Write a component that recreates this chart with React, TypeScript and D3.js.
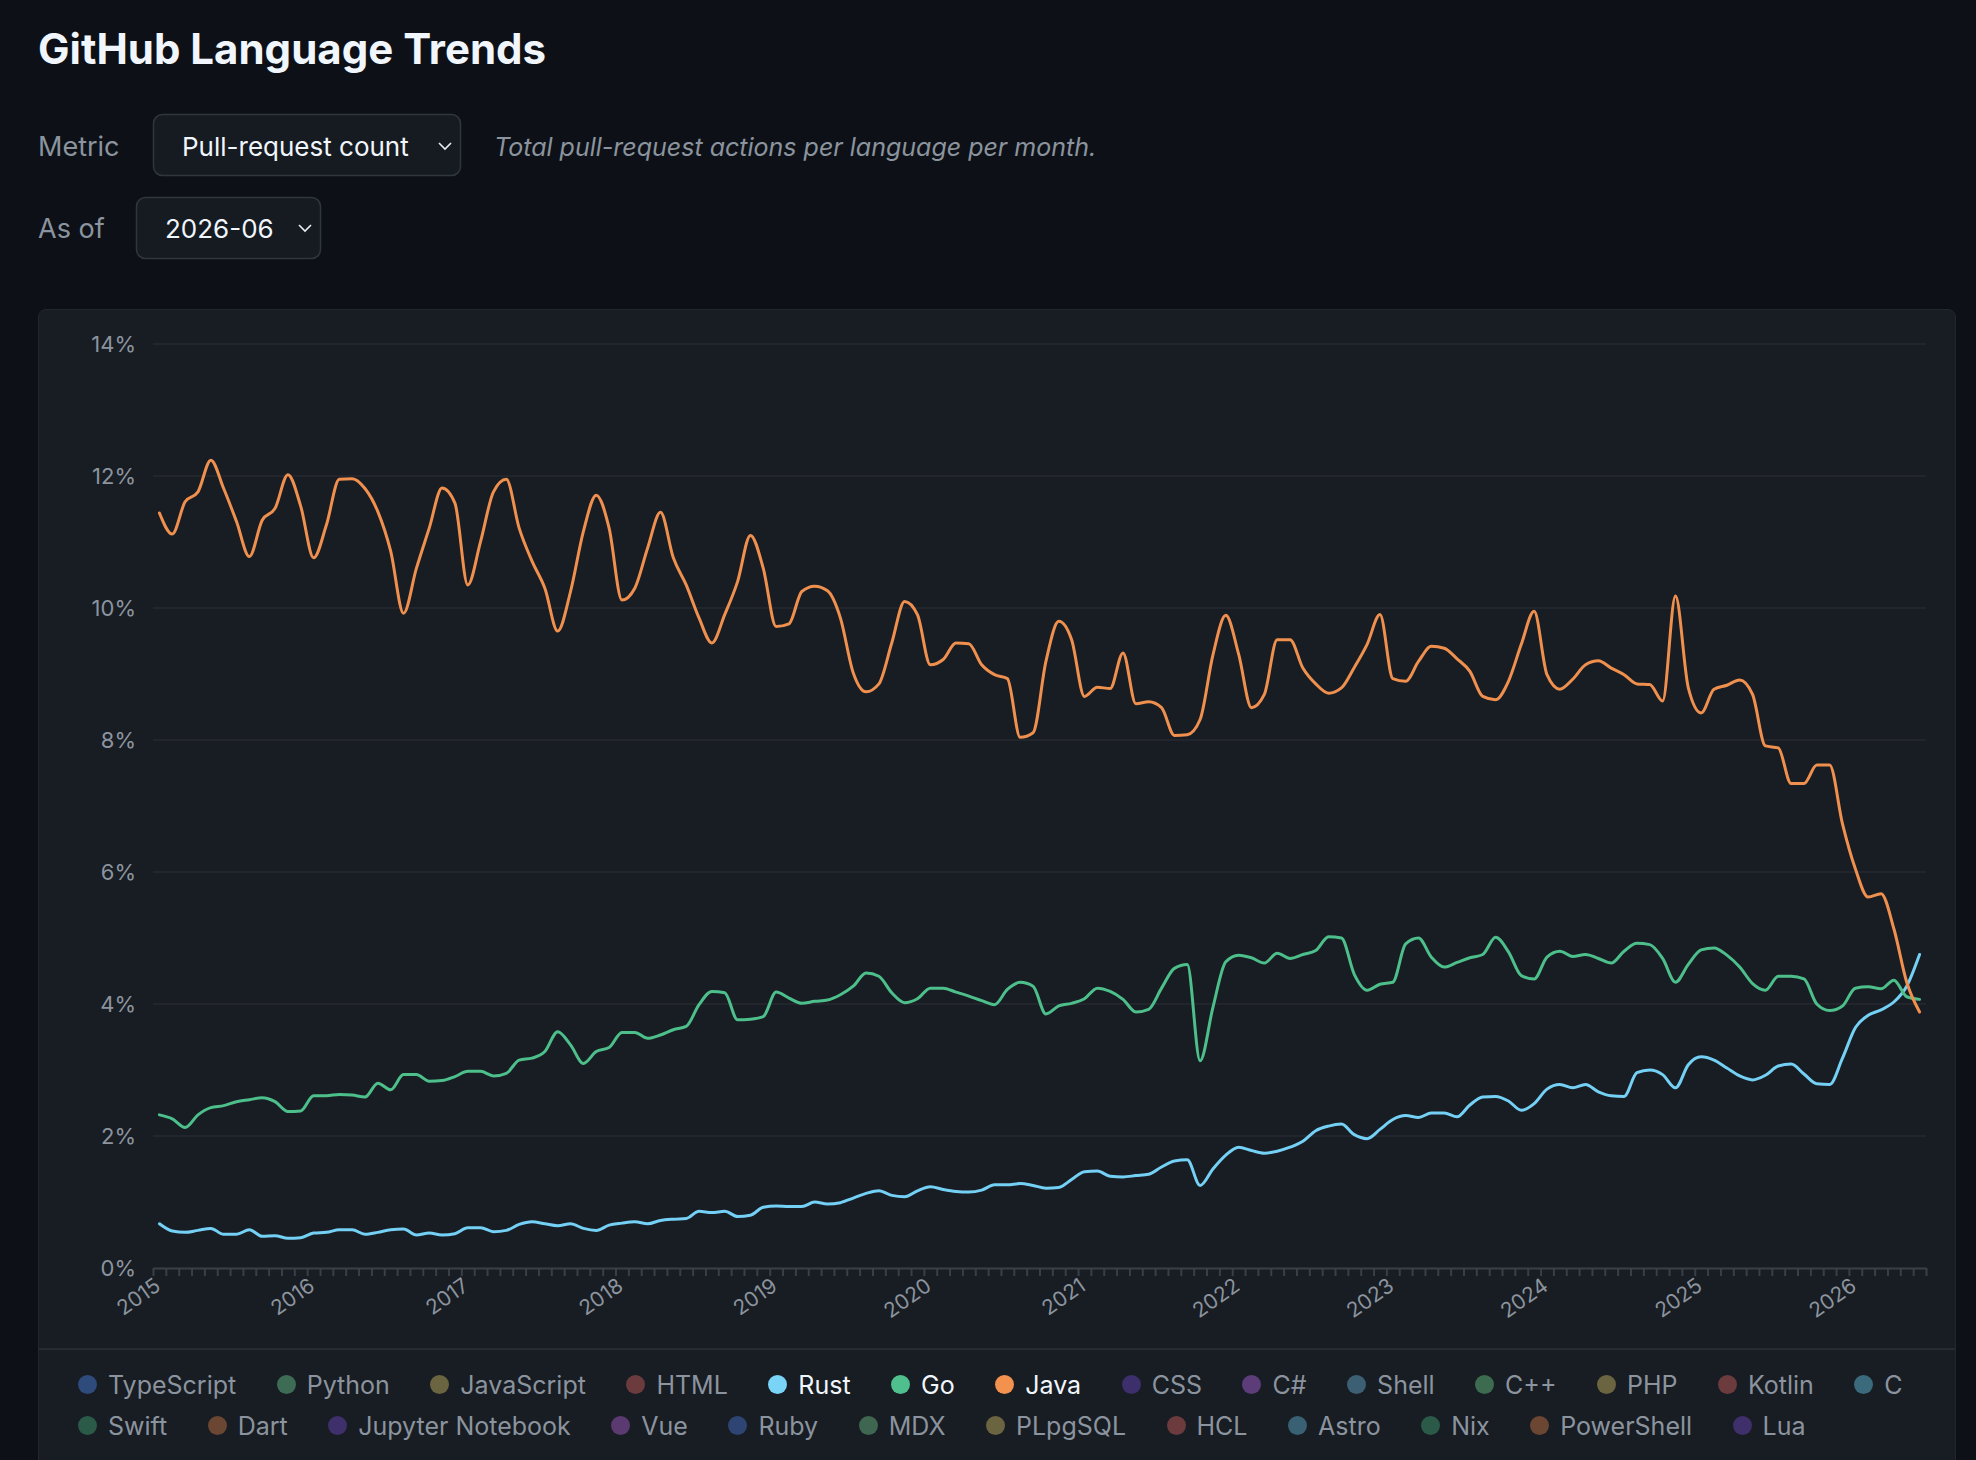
import React, { useEffect, useRef } from "react";
import * as d3 from "d3";

const FONT = "Inter, 'Noto Sans', 'DejaVu Sans', sans-serif";

// monthly share of pull-request actions, 2015-01 .. 2026-06 (percent)
const years = ["2015", "2016", "2017", "2018", "2019", "2020", "2021", "2022", "2023", "2024", "2025", "2026"];
const yTicks = [0, 2, 4, 6, 8, 10, 12, 14];

const java = [
  11.44, 11.12, 11.61, 11.76, 12.24, 11.81, 11.31, 10.78, 11.33, 11.51, 12.02, 11.54,
  10.76, 11.26, 11.95, 11.96, 11.81, 11.46, 10.86, 9.92, 10.6, 11.21, 11.82, 11.59,
  10.35, 11.01, 11.76, 11.95, 11.21, 10.71, 10.3, 9.65, 10.25, 11.16, 11.71, 11.21,
  10.12, 10.3, 10.91, 11.45, 10.76, 10.35, 9.85, 9.47, 9.9, 10.4, 11.1, 10.6,
  9.72, 9.76, 10.25, 10.33, 10.26, 9.85, 9.02, 8.73, 8.85, 9.47, 10.1, 9.9,
  9.14, 9.22, 9.47, 9.46, 9.14, 8.99, 8.93, 8.04, 8.11, 9.19, 9.8, 9.52,
  8.66, 8.8, 8.78, 9.32, 8.55, 8.58, 8.49, 8.07, 8.08, 8.31, 9.29, 9.89,
  9.3, 8.49, 8.69, 9.52, 9.52, 9.09, 8.85, 8.71, 8.79, 9.1, 9.45, 9.9,
  8.93, 8.89, 9.19, 9.42, 9.39, 9.23, 9.04, 8.66, 8.61, 8.89, 9.45, 9.95,
  8.99, 8.77, 8.92, 9.14, 9.2, 9.09, 8.99, 8.85, 8.84, 8.59, 10.18, 8.79,
  8.41, 8.77, 8.83, 8.91, 8.69, 7.91, 7.88, 7.34, 7.34, 7.62, 7.62, 6.73,
  6.05, 5.62, 5.67, 5.14, 4.33, 3.88,
];

const go = [
  2.32, 2.26, 2.13, 2.32, 2.43, 2.46, 2.52, 2.55, 2.58, 2.52, 2.37, 2.38,
  2.61, 2.61, 2.63, 2.62, 2.59, 2.8, 2.7, 2.93, 2.93, 2.83, 2.84, 2.9,
  2.98, 2.98, 2.91, 2.95, 3.15, 3.18, 3.28, 3.58, 3.38, 3.1, 3.28, 3.34,
  3.57, 3.57, 3.48, 3.53, 3.61, 3.66, 3.99, 4.19, 4.17, 3.76, 3.77, 3.81,
  4.18, 4.09, 4.01, 4.04, 4.06, 4.14, 4.27, 4.47, 4.42, 4.17, 4.02, 4.08,
  4.24, 4.24, 4.18, 4.12, 4.05, 3.99, 4.22, 4.33, 4.27, 3.85, 3.97, 4.01,
  4.08, 4.24, 4.19, 4.07, 3.88, 3.92, 4.24, 4.54, 4.6, 3.14, 3.95, 4.64,
  4.74, 4.7, 4.62, 4.77, 4.69, 4.75, 4.81, 5.02, 5.0, 4.45, 4.21, 4.3,
  4.33, 4.91, 5.0, 4.71, 4.56, 4.63, 4.7, 4.75, 5.01, 4.79, 4.43, 4.38,
  4.71, 4.8, 4.72, 4.75, 4.69, 4.62, 4.8, 4.92, 4.9, 4.69, 4.33, 4.6,
  4.82, 4.85, 4.74, 4.56, 4.31, 4.21, 4.42, 4.42, 4.38, 4.0, 3.9, 3.97,
  4.24, 4.26, 4.23, 4.36, 4.11, 4.07,
];

const rust = [
  0.67, 0.56, 0.54, 0.57, 0.6, 0.51, 0.51, 0.58, 0.48, 0.49, 0.45, 0.46,
  0.53, 0.54, 0.58, 0.58, 0.51, 0.54, 0.58, 0.59, 0.5, 0.53, 0.5, 0.52,
  0.61, 0.61, 0.55, 0.57, 0.66, 0.7, 0.67, 0.64, 0.67, 0.6, 0.57, 0.65,
  0.68, 0.7, 0.67, 0.72, 0.74, 0.75, 0.86, 0.84, 0.86, 0.78, 0.8, 0.92,
  0.94, 0.93, 0.93, 1.0, 0.97, 0.99, 1.06, 1.13, 1.17, 1.1, 1.08, 1.17,
  1.23, 1.19, 1.16, 1.15, 1.18, 1.26, 1.26, 1.28, 1.25, 1.21, 1.22, 1.34,
  1.46, 1.47, 1.39, 1.38, 1.4, 1.42, 1.53, 1.62, 1.64, 1.25, 1.5, 1.71,
  1.83, 1.78, 1.74, 1.77, 1.83, 1.92, 2.08, 2.15, 2.18, 2.02, 1.96, 2.1,
  2.25, 2.31, 2.28, 2.35, 2.35, 2.29, 2.47, 2.59, 2.6, 2.53, 2.39, 2.49,
  2.71, 2.78, 2.73, 2.78, 2.67, 2.61, 2.6, 2.96, 3.0, 2.93, 2.73, 3.08,
  3.2, 3.15, 3.03, 2.91, 2.85, 2.92, 3.06, 3.09, 2.94, 2.79, 2.78, 3.18,
  3.64, 3.83, 3.91, 4.03, 4.27, 4.75,
];

// drawn in this order, so Java sits on top
const seriesNames = ["Rust", "Go", "Java"];
const seriesValues = [rust, go, java];
const seriesColors = ["#74d0f4", "#4dbf8b", "#f0904e"];

const legendRow1 = ["TypeScript", "Python", "JavaScript", "HTML", "Rust", "Go", "Java", "CSS", "C#", "Shell", "C++", "PHP", "Kotlin", "C"];
const legendRow1Colors = ["#2e4b7c", "#3d6b54", "#6b6440", "#6b3b3e", "#79d4f7", "#4fc08d", "#f3914f", "#3c2f6c", "#5c3d7a", "#3c5f73", "#3d6b50", "#6b6440", "#6b3b3e", "#3a6a7c"];
const legendRow2 = ["Swift", "Dart", "Jupyter Notebook", "Vue", "Ruby", "MDX", "PLpgSQL", "HCL", "Astro", "Nix", "PowerShell", "Lua"];
const legendRow2Colors = ["#2b5a48", "#6b4632", "#3f2f6b", "#5a3a70", "#2e4473", "#3f6650", "#6b6440", "#6b3b3e", "#3a6073", "#2b5a48", "#6b4632", "#3f2f6b"];

const W = 1918;
const H = 1038;
const margin = { top: 34, right: 31, bottom: 80, left: 114 };

function LineChart() {
  const ref = useRef<SVGSVGElement>(null);

  useEffect(() => {
    if (!ref.current) return;
    const svg = d3.select(ref.current);
    svg.selectAll("*").remove();

    const w = W - margin.left - margin.right;
    const h = H - margin.top - margin.bottom;
    const months = java.length;

    const g = svg.append("g").attr("transform", `translate(${margin.left},${margin.top})`);
    const x = d3.scaleLinear().domain([0, months]).range([0, w]);
    const y = d3.scaleLinear().domain([0, 14]).range([h, 0]);

    // horizontal grid
    g.append("g")
      .selectAll("line")
      .data(yTicks.filter((t) => t > 0))
      .join("line")
      .attr("x1", 0).attr("x2", w)
      .attr("y1", (d) => y(d)).attr("y2", (d) => y(d))
      .attr("stroke", "#262a31").attr("stroke-width", 1.5);

    g.append("g")
      .selectAll("text")
      .data(yTicks)
      .join("text")
      .attr("x", -17)
      .attr("y", (d) => y(d))
      .attr("dy", "0.35em")
      .attr("text-anchor", "end")
      .attr("fill", "#8b949e")
      .attr("font-size", 22)
      .text((d) => `${d}%`);

    // monthly ticks along the bottom
    const ax = g.append("g")
      .attr("transform", `translate(0,${h})`)
      .call(d3.axisBottom(x).tickValues(d3.range(0, months + 1)).tickSize(8).tickSizeOuter(0).tickFormat(() => ""));
    ax.select(".domain").attr("stroke", "#3a3f47").attr("stroke-width", 2);
    ax.selectAll(".tick line").attr("stroke", "#3a3f47").attr("stroke-width", 2);

    g.append("g")
      .selectAll("text")
      .data(years)
      .join("text")
      .attr("transform", (_, i) => `translate(${x(i * 12) + 9},${h + 21}) rotate(-35)`)
      .attr("text-anchor", "end")
      .attr("fill", "#8b949e")
      .attr("font-size", 21)
      .text((d) => d);

    const line = d3.line<number>()
      .x((_, i) => x(i + 0.5))
      .y((d) => y(d))
      .curve(d3.curveMonotoneX);

    seriesValues.forEach((vals, k) => {
      g.append("path")
        .datum(vals)
        .attr("fill", "none")
        .attr("stroke", seriesColors[k])
        .attr("stroke-width", 3)
        .attr("stroke-linejoin", "round")
        .attr("stroke-linecap", "round")
        .attr("d", line);
    });
  }, []);

  return <svg ref={ref} width={W} height={H} fontFamily={FONT} style={{ display: "block" }} />;
}

function LegendRow({ names, colors }: { names: string[]; colors: string[] }) {
  return (
    <div style={styles.legendRow}>
      {names.map((n, i) => (
        <div key={n} style={styles.legendItem}>
          <span style={{ ...styles.dot, background: colors[i] }} />
          <span style={{ color: seriesNames.includes(n) ? "#f0f6fc" : "#8b949e" }}>{n}</span>
        </div>
      ))}
    </div>
  );
}

function Header() {
  const chevron = (cx: number, cy: number) => `M${cx - 6},${cy - 3} L${cx},${cy + 3} L${cx + 6},${cy - 3}`;
  return (
    <svg width={1976} height={290} fontFamily={FONT} style={{ position: "absolute", left: 0, top: 0 }}>
      <text x={38} y={64} fill="#f0f6fc" fontSize={42} fontWeight={700}>GitHub Language Trends</text>

      <text x={38} y={156} fill="#8b949e" fontSize={27}>Metric</text>
      <rect x={153.5} y={114.5} width={307} height={61} rx={9} fill="#161b22" stroke="#30363d" strokeWidth={1.5} />
      <text x={182} y={156} fill="#f0f6fc" fontSize={26}>Pull-request count</text>
      <path d={chevron(445, 146)} fill="none" stroke="#e6edf3" strokeWidth={1.6} />
      <text x={494} y={156} fill="#8b949e" fontSize={25} fontStyle="italic">Total pull-request actions per language per month.</text>

      <text x={38} y={238} fill="#8b949e" fontSize={27}>As of</text>
      <rect x={136.5} y={197.5} width={184} height={61} rx={9} fill="#161b22" stroke="#30363d" strokeWidth={1.5} />
      <text x={165} y={238} fill="#f0f6fc" fontSize={26}>2026-06</text>
      <path d={chevron(305, 228)} fill="none" stroke="#e6edf3" strokeWidth={1.6} />
    </svg>
  );
}

export default function App() {
  return (
    <div style={styles.page}>
      <Header />
      <div style={styles.card}>
        <LineChart />
        <div style={styles.legend}>
          <LegendRow names={legendRow1} colors={legendRow1Colors} />
          <LegendRow names={legendRow2} colors={legendRow2Colors} />
        </div>
      </div>
    </div>
  );
}

const styles: Record<string, React.CSSProperties> = {
  page: { position: "fixed", inset: 0, background: "#0d1117", overflow: "hidden", fontFamily: FONT },
  card: { position: "absolute", left: 38, top: 309, width: 1918, height: 1200, background: "#181c23", border: "1px solid #22262d", borderRadius: 8, boxSizing: "border-box" },
  legend: { borderTop: "2px solid #262a31", paddingTop: 14, paddingLeft: 39 },
  legendRow: { display: "flex", alignItems: "center", gap: 40.5, height: 41, whiteSpace: "nowrap" },
  legendItem: { display: "flex", alignItems: "center", gap: 11, fontSize: 25 },
  dot: { width: 19, height: 19, borderRadius: "50%", display: "inline-block" },
};
